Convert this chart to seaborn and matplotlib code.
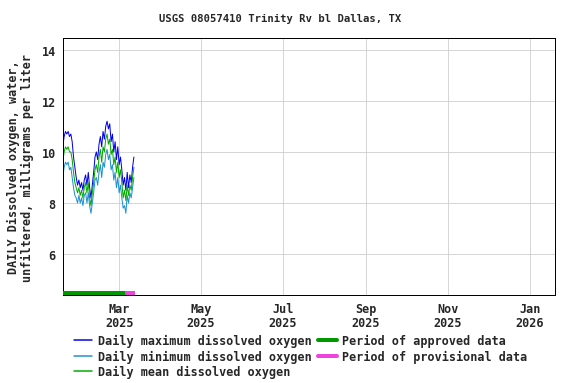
import matplotlib
matplotlib.use("Agg")
import matplotlib.pyplot as plt
from matplotlib.lines import Line2D
import seaborn as sns
import pandas as pd

dates = pd.date_range("2025-01-18", periods=54, freq="D")
dmax = [10.2, 10.6, 10.8, 10.7, 10.8, 10.6, 10.7, 10.4, 9.8, 9.4, 9.0, 8.7, 8.9, 8.6,
        8.8, 8.5, 8.9, 9.1, 8.7, 9.2, 8.6, 8.2, 8.7, 9.2, 9.8, 10.0, 9.7, 10.3, 10.6,
        10.2, 10.8, 10.5, 11.0, 11.2, 10.9, 11.1, 10.4, 10.7, 10.0, 10.4, 9.7, 10.2,
        9.5, 9.8, 9.3, 8.7, 9.0, 8.5, 9.2, 8.6, 9.1, 8.8, 9.4, 9.8]
dmin = [9.0, 9.4, 9.6, 9.5, 9.6, 9.3, 9.4, 9.0, 8.6, 8.3, 8.2, 8.0, 8.3, 8.0, 8.2,
        7.9, 8.3, 8.4, 8.0, 8.4, 7.9, 7.6, 8.0, 8.4, 8.9, 9.0, 8.7, 9.2, 9.5, 9.0, 9.6,
        9.4, 9.9, 10.1, 9.7, 9.9, 9.3, 9.5, 8.9, 9.2, 8.6, 9.0, 8.4, 8.7, 8.2, 7.8, 7.9,
        7.6, 8.3, 8.0, 8.4, 8.2, 8.6, 9.0]
dmean = [9.6, 10.0, 10.2, 10.1, 10.2, 10.0, 10.0, 9.7, 9.2, 8.8, 8.6, 8.4, 8.6, 8.3,
         8.5, 8.2, 8.6, 8.8, 8.4, 8.8, 8.2, 7.9, 8.4, 8.8, 9.3, 9.5, 9.2, 9.8, 10.1,
         9.6, 10.2, 10.0, 10.5, 10.7, 10.3, 10.5, 9.9, 10.1, 9.5, 9.8, 9.2, 9.6, 9.0,
         9.3, 8.8, 8.2, 8.5, 8.1, 8.7, 8.3, 8.7, 8.5, 9.0, 9.4]
approved = ("2025-01-18", "2025-03-05")
provisional = ("2025-03-05", "2025-03-13")
yticks = [6, 8, 10, 12, 14]
xtick_dates = ["2025-03-01", "2025-05-01", "2025-07-01", "2025-09-01", "2025-11-01", "2026-01-01"]
xtick_labels = ["Mar\n2025", "May\n2025", "Jul\n2025", "Sep\n2025", "Nov\n2025", "Jan\n2026"]

sns.set_style("white")
plt.rcParams["font.family"] = ["DejaVu Sans Mono"]
plt.rcParams["font.weight"] = "bold"

df = pd.DataFrame({"date": dates, "max": dmax, "min": dmin, "mean": dmean})

fig = plt.figure(figsize=(8, 5.3333), dpi=72)
ax = fig.add_axes([0.109, 0.229, 0.855, 0.669])

c_max, c_min, c_mean, c_app, c_prov = "#0000ee", "#1e90d0", "#00aa00", "#009900", "#ee44dd"
sns.lineplot(data=df, x="date", y="max", ax=ax, color=c_max, lw=1.0, legend=False)
sns.lineplot(data=df, x="date", y="min", ax=ax, color=c_min, lw=1.0, legend=False)
sns.lineplot(data=df, x="date", y="mean", ax=ax, color=c_mean, lw=1.0, legend=False)

ymin, ymax = 4.4, 14.45
ax.plot(pd.to_datetime(list(approved)), [ymin + 0.07] * 2, color=c_app, lw=4,
        solid_capstyle="butt", zorder=5, clip_on=False)
ax.plot(pd.to_datetime(list(provisional)), [ymin + 0.07] * 2, color=c_prov, lw=4,
        solid_capstyle="butt", zorder=5, clip_on=False)

fs = 11.7
ax.set_ylim(ymin, ymax)
ax.set_xlim(pd.Timestamp("2025-01-18"), pd.Timestamp("2026-01-20"))
ax.set_yticks(yticks)
ax.set_yticklabels([str(t) for t in yticks], fontsize=fs, fontweight="bold")
ax.set_xticks(pd.to_datetime(xtick_dates))
ax.set_xticklabels(xtick_labels, fontsize=fs, fontweight="bold", linespacing=1.1)
ax.grid(True, color="#cccccc", lw=0.8)
ax.set_axisbelow(True)
for s in ax.spines.values():
    s.set_color("black")
    s.set_linewidth(1)
ax.tick_params(axis="both", direction="out", length=4, color="#888888", width=0.8, pad=3)
ax.set_xlabel("")
ax.set_ylabel("DAILY Dissolved oxygen, water,\nunfiltered, milligrams per liter",
              fontsize=fs, fontweight="bold", labelpad=8, linespacing=1.05)
fig.text(0.486, 0.95, "USGS 08057410 Trinity Rv bl Dallas, TX", fontsize=10.5,
         fontweight="bold", ha="center", va="center")

handles = [Line2D([], [], color=c_max, lw=1.5), Line2D([], [], color=c_min, lw=1.5),
           Line2D([], [], color=c_mean, lw=1.5), Line2D([], [], color=c_app, lw=4),
           Line2D([], [], color=c_prov, lw=4)]
labels = ["Daily maximum dissolved oxygen", "Daily minimum dissolved oxygen",
          "Daily mean dissolved oxygen", "Period of approved data",
          "Period of provisional data"]
fig.legend(handles, labels, loc="upper left", bbox_to_anchor=(0.128, 0.127), ncol=2,
           frameon=False, fontsize=fs, handlelength=1.6, handletextpad=0.45,
           columnspacing=0.6, labelspacing=0.2, borderaxespad=0, borderpad=0)

fig.savefig("out.png", dpi=72)
